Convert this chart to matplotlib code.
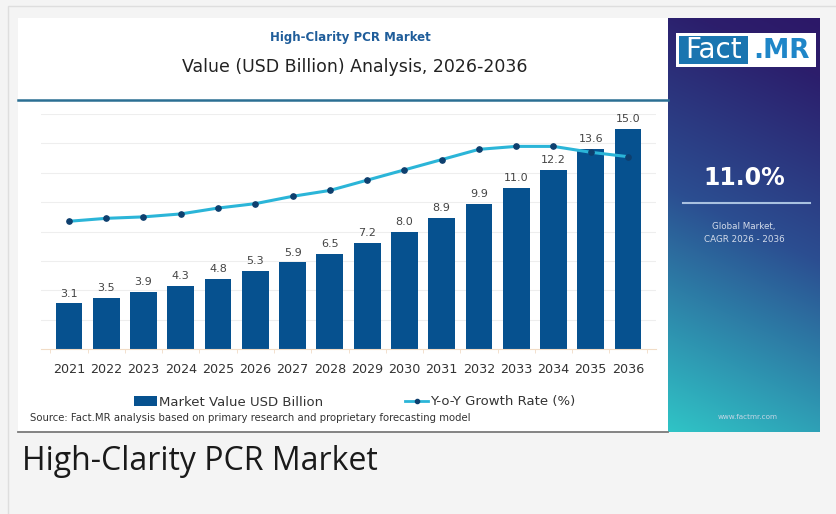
import numpy as np
import matplotlib.pyplot as plt
from matplotlib.patches import Rectangle
from matplotlib.lines import Line2D

# data
years = ['2021', '2022', '2023', '2024', '2025', '2026', '2027', '2028',
         '2029', '2030', '2031', '2032', '2033', '2034', '2035', '2036']
market_value = [3.1, 3.5, 3.9, 4.3, 4.8, 5.3, 5.9, 6.5, 7.2, 8.0, 8.9, 9.9, 11.0, 12.2, 13.6, 15.0]
yoy_growth = [8.7, 8.9, 9.0, 9.2, 9.6, 9.9, 10.4, 10.8, 11.5, 12.2, 12.9, 13.6, 13.8, 13.8, 13.4, 13.1]
cagr = '11.0%'

W, H = 836, 514
fig = plt.figure(figsize=(W / 100, H / 100), dpi=100, facecolor='#f4f4f4')


def box(x0, y0, x1, y1):
    # pixel box (top-left origin) -> figure rect
    return [x0 / W, 1 - y1 / H, (x1 - x0) / W, (y1 - y0) / H]


#%% background, card and side panel
bg = fig.add_axes([0, 0, 1, 1])
bg.axis('off')

bg.add_patch(Rectangle((8, 6), 840, 520, fc='#f4f4f4', ec='#dedede', lw=1, zorder=0.5))
bg.add_patch(Rectangle((18, 18), 650, 414, fc='white', ec='none', zorder=0.6))
bg.plot([18, 668], [432, 432], color='#7a7a7a', lw=1.3)

# gradient panel: purple at top -> teal at bottom-left
t = np.linspace(0, 1, 240)[:, None]
s = np.linspace(0, 1, 80)[None, :]
u = 0.85 * t + 0.15 * (1 - s)
stops = [0.0, 0.12, 0.5, 1.0]
cols = np.array([[45, 24, 104], [44, 30, 108], [43, 78, 145], [48, 196, 198]]) / 255
grad = np.stack([np.interp(u, stops, cols[:, k]) for k in range(3)], axis=-1)
bg.imshow(grad, extent=(668, 820, 432, 18), aspect='auto', interpolation='bilinear', zorder=0.7)
bg.set_xlim(0, W)
bg.set_ylim(H, 0)

# logo
bg.add_patch(Rectangle((676, 33), 140, 34, fc='white', ec='none'))
bg.add_patch(Rectangle((679, 36), 69, 28, fc='#1a75b0', ec='none'))
bg.text(713.5, 50.5, 'Fact', color='white', fontsize=20, ha='center', va='center')
bg.text(782, 50.5, '.MR', color='#1f86c8', fontsize=19, weight='bold', ha='center', va='center')

bg.text(744, 178, cagr, color='white', fontsize=17, weight='bold', ha='center', va='center')
bg.plot([683, 810], [203, 203], color='#a9c1e0', lw=1.5)
bg.text(744, 227, 'Global Market,', color='#d3dbea', fontsize=6.3, ha='center', va='center')
bg.text(744, 240, 'CAGR 2026 - 2036', color='#d3dbea', fontsize=6.3, ha='center', va='center')
bg.text(748, 417, 'www.factmr.com', color='#c5d6e6', fontsize=5.2, ha='center', va='center')

# header
bg.text(350, 38, 'High-Clarity PCR Market', fontsize=8.5, weight='bold', color='#1f5d9a',
        ha='center', va='center')
bg.text(355, 67, 'Value (USD Billion) Analysis, 2026-2036', fontsize=12.5, color='#222222',
        ha='center', va='center')
bg.plot([18, 668], [100, 100], color='#2b6f93', lw=1.8)

bg.text(30, 418, 'Source: Fact.MR analysis based on primary research and proprietary forecasting model',
        fontsize=7.3, color='#333333', va='center')

bg.text(22, 462, 'High-Clarity PCR Market', fontsize=23, color='#1a1a1a', va='center',
        family=['Open Sans', 'DejaVu Sans'])

#%% chart
ax = fig.add_axes(box(41, 114.1, 656, 349))
x = np.arange(len(years))
bars = ax.bar(x, market_value, width=0.72, color='#06518f', zorder=2)
ax.bar_label(bars, labels=[f'{v:.1f}' for v in market_value], padding=3.5,
             fontsize=8, color='#444444')
ax.set_xlim(-0.75, 15.75)
ax.set_ylim(0, 16)
ax.set_facecolor('none')

ax.set_yticks(np.arange(2, 17, 2))
ax.yaxis.grid(True, color='#eeeeee', lw=0.8)
ax.set_axisbelow(True)
ax.tick_params(axis='y', length=0, labelleft=False)

ax.set_xticks(x, years)
ax.set_xticks(np.arange(-0.5, 16, 1), minor=True)
ax.tick_params(axis='x', which='major', length=0, pad=10, labelsize=9.2, labelcolor='#333333')
ax.tick_params(axis='x', which='minor', length=3, color='#f1dcc6')
for side in ['top', 'right', 'left']:
    ax.spines[side].set_visible(False)
ax.spines['bottom'].set_color('#f1dcc6')

ax2 = ax.twinx()
ax2.set_ylim(0, 16)
ax2.plot(x, yoy_growth, color='#2bb5d8', lw=2.2, marker='o', ms=3.8,
         mfc='#0e3f6e', mec='#0e3f6e', zorder=3)
ax2.axis('off')

handles = [Rectangle((0, 0), 1, 1, fc='#06518f'),
           Line2D([0], [0], color='#2bb5d8', lw=2, marker='o', ms=3, mfc='#0e3f6e', mec='#0e3f6e')]
fig.legend(handles, ['Market Value USD Billion', 'Y-o-Y Growth Rate (%)'], loc='center',
           bbox_to_anchor=(355 / W, 1 - 402 / H), ncol=2, frameon=False, fontsize=9.5,
           handlelength=1.7, columnspacing=6.2, handletextpad=0.2, labelcolor='#333333')

plt.savefig('out.png', dpi=100, facecolor=fig.get_facecolor())
plt.close()
